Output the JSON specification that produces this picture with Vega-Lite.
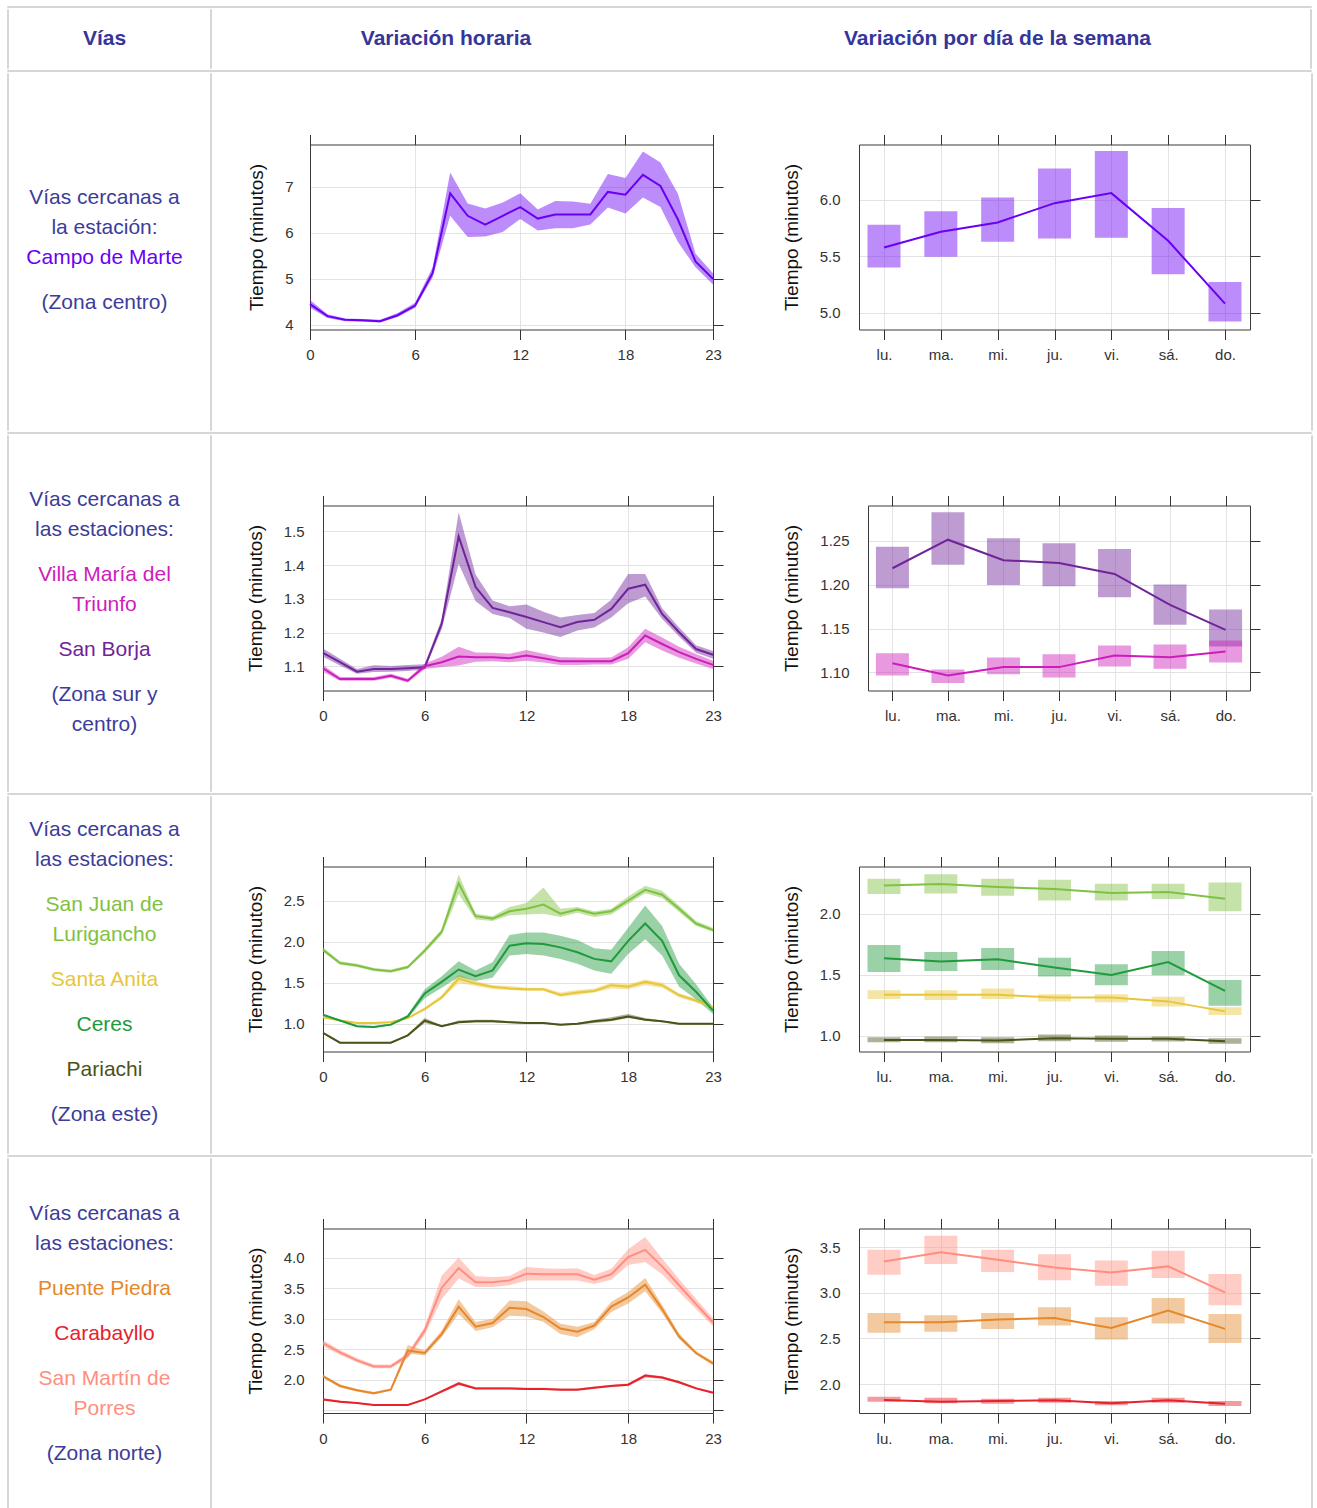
{
"$schema": "https://vega.github.io/schema/vega-lite/v6.json",
"padding": {"left": 6, "top": 5, "right": 0, "bottom": 0},
"background": "white",
"config": {
  "view": {"stroke": null},
  "axis": {"labelFont": "Liberation Sans", "labelFontSize": 15, "labelColor": "#333333", "titleFont": "Liberation Sans", "titleFontSize": 19, "titleFontWeight": "normal", "titleColor": "#111111", "tickColor": "#333333", "tickSize": 10, "domain": true, "domainColor": "#3a3a3a", "domainWidth": 1, "gridColor": "#e3e3e3", "labelFlush": false, "labelOverlap": false}
},
"datasets": {
"vacio": [],
"textos": [
{"fila":1,"renglon":0,"texto":"Vías cercanas a","grupo":"general"},
{"fila":1,"renglon":1,"texto":"la estación:","grupo":"general"},
{"fila":1,"renglon":2,"texto":"Campo de Marte","grupo":"Campo de Marte"},
{"fila":1,"renglon":3.5,"texto":"(Zona centro)","grupo":"general"},
{"fila":2,"renglon":0,"texto":"Vías cercanas a","grupo":"general"},
{"fila":2,"renglon":1,"texto":"las estaciones:","grupo":"general"},
{"fila":2,"renglon":2.5,"texto":"Villa María del","grupo":"Villa María del Triunfo"},
{"fila":2,"renglon":3.5,"texto":"Triunfo","grupo":"Villa María del Triunfo"},
{"fila":2,"renglon":5,"texto":"San Borja","grupo":"San Borja"},
{"fila":2,"renglon":6.5,"texto":"(Zona sur y","grupo":"general"},
{"fila":2,"renglon":7.5,"texto":"centro)","grupo":"general"},
{"fila":3,"renglon":0,"texto":"Vías cercanas a","grupo":"general"},
{"fila":3,"renglon":1,"texto":"las estaciones:","grupo":"general"},
{"fila":3,"renglon":2.5,"texto":"San Juan de","grupo":"San Juan de Lurigancho"},
{"fila":3,"renglon":3.5,"texto":"Lurigancho","grupo":"San Juan de Lurigancho"},
{"fila":3,"renglon":5,"texto":"Santa Anita","grupo":"Santa Anita"},
{"fila":3,"renglon":6.5,"texto":"Ceres","grupo":"Ceres"},
{"fila":3,"renglon":8,"texto":"Pariachi","grupo":"Pariachi"},
{"fila":3,"renglon":9.5,"texto":"(Zona este)","grupo":"general"},
{"fila":4,"renglon":0,"texto":"Vías cercanas a","grupo":"general"},
{"fila":4,"renglon":1,"texto":"las estaciones:","grupo":"general"},
{"fila":4,"renglon":2.5,"texto":"Puente Piedra","grupo":"Puente Piedra"},
{"fila":4,"renglon":4,"texto":"Carabayllo","grupo":"Carabayllo"},
{"fila":4,"renglon":5.5,"texto":"San Martín de","grupo":"San Martín de Porres"},
{"fila":4,"renglon":6.5,"texto":"Porres","grupo":"San Martín de Porres"},
{"fila":4,"renglon":8,"texto":"(Zona norte)","grupo":"general"}
],
"horaria": [
{"fila":1,"serie":"Campo de Marte","hora":0,"valor":4.45,"inf":4.37,"sup":4.54},
{"fila":1,"serie":"Campo de Marte","hora":1,"valor":4.19,"inf":4.15,"sup":4.23},
{"fila":1,"serie":"Campo de Marte","hora":2,"valor":4.11,"inf":4.08,"sup":4.14},
{"fila":1,"serie":"Campo de Marte","hora":3,"valor":4.10,"inf":4.07,"sup":4.13},
{"fila":1,"serie":"Campo de Marte","hora":4,"valor":4.08,"inf":4.05,"sup":4.11},
{"fila":1,"serie":"Campo de Marte","hora":5,"valor":4.21,"inf":4.17,"sup":4.26},
{"fila":1,"serie":"Campo de Marte","hora":6,"valor":4.42,"inf":4.37,"sup":4.48},
{"fila":1,"serie":"Campo de Marte","hora":7,"valor":5.13,"inf":5.03,"sup":5.25},
{"fila":1,"serie":"Campo de Marte","hora":8,"valor":6.86,"inf":6.37,"sup":7.31},
{"fila":1,"serie":"Campo de Marte","hora":9,"valor":6.37,"inf":5.91,"sup":6.64},
{"fila":1,"serie":"Campo de Marte","hora":10,"valor":6.18,"inf":5.92,"sup":6.53},
{"fila":1,"serie":"Campo de Marte","hora":11,"valor":6.37,"inf":6.02,"sup":6.66},
{"fila":1,"serie":"Campo de Marte","hora":12,"valor":6.56,"inf":6.30,"sup":6.86},
{"fila":1,"serie":"Campo de Marte","hora":13,"valor":6.31,"inf":6.05,"sup":6.51},
{"fila":1,"serie":"Campo de Marte","hora":14,"valor":6.40,"inf":6.10,"sup":6.69},
{"fila":1,"serie":"Campo de Marte","hora":15,"valor":6.40,"inf":6.10,"sup":6.68},
{"fila":1,"serie":"Campo de Marte","hora":16,"valor":6.40,"inf":6.18,"sup":6.63},
{"fila":1,"serie":"Campo de Marte","hora":17,"valor":6.89,"inf":6.55,"sup":7.28},
{"fila":1,"serie":"Campo de Marte","hora":18,"valor":6.83,"inf":6.42,"sup":7.19},
{"fila":1,"serie":"Campo de Marte","hora":19,"valor":7.26,"inf":6.77,"sup":7.77},
{"fila":1,"serie":"Campo de Marte","hora":20,"valor":7.02,"inf":6.56,"sup":7.53},
{"fila":1,"serie":"Campo de Marte","hora":21,"valor":6.29,"inf":5.80,"sup":6.85},
{"fila":1,"serie":"Campo de Marte","hora":22,"valor":5.38,"inf":5.25,"sup":5.55},
{"fila":1,"serie":"Campo de Marte","hora":23,"valor":5.00,"inf":4.88,"sup":5.12},
{"fila":2,"serie":"San Borja","hora":0,"valor":1.140,"inf":1.128,"sup":1.153},
{"fila":2,"serie":"San Borja","hora":1,"valor":1.112,"inf":1.102,"sup":1.122},
{"fila":2,"serie":"San Borja","hora":2,"valor":1.084,"inf":1.078,"sup":1.092},
{"fila":2,"serie":"San Borja","hora":3,"valor":1.092,"inf":1.083,"sup":1.103},
{"fila":2,"serie":"San Borja","hora":4,"valor":1.092,"inf":1.084,"sup":1.101},
{"fila":2,"serie":"San Borja","hora":5,"valor":1.094,"inf":1.086,"sup":1.104},
{"fila":2,"serie":"San Borja","hora":6,"valor":1.097,"inf":1.090,"sup":1.106},
{"fila":2,"serie":"San Borja","hora":7,"valor":1.226,"inf":1.210,"sup":1.240},
{"fila":2,"serie":"San Borja","hora":8,"valor":1.485,"inf":1.404,"sup":1.557},
{"fila":2,"serie":"San Borja","hora":9,"valor":1.335,"inf":1.293,"sup":1.372},
{"fila":2,"serie":"San Borja","hora":10,"valor":1.273,"inf":1.255,"sup":1.295},
{"fila":2,"serie":"San Borja","hora":11,"valor":1.260,"inf":1.243,"sup":1.278},
{"fila":2,"serie":"San Borja","hora":12,"valor":1.246,"inf":1.211,"sup":1.283},
{"fila":2,"serie":"San Borja","hora":13,"valor":1.231,"inf":1.200,"sup":1.262},
{"fila":2,"serie":"San Borja","hora":14,"valor":1.216,"inf":1.187,"sup":1.245},
{"fila":2,"serie":"San Borja","hora":15,"valor":1.231,"inf":1.206,"sup":1.252},
{"fila":2,"serie":"San Borja","hora":16,"valor":1.238,"inf":1.215,"sup":1.258},
{"fila":2,"serie":"San Borja","hora":17,"valor":1.270,"inf":1.245,"sup":1.297},
{"fila":2,"serie":"San Borja","hora":18,"valor":1.330,"inf":1.287,"sup":1.374},
{"fila":2,"serie":"San Borja","hora":19,"valor":1.342,"inf":1.307,"sup":1.374},
{"fila":2,"serie":"San Borja","hora":20,"valor":1.255,"inf":1.240,"sup":1.272},
{"fila":2,"serie":"San Borja","hora":21,"valor":1.201,"inf":1.188,"sup":1.215},
{"fila":2,"serie":"San Borja","hora":22,"valor":1.151,"inf":1.140,"sup":1.162},
{"fila":2,"serie":"San Borja","hora":23,"valor":1.134,"inf":1.122,"sup":1.145},
{"fila":2,"serie":"Villa María del Triunfo","hora":0,"valor":1.094,"inf":1.084,"sup":1.104},
{"fila":2,"serie":"Villa María del Triunfo","hora":1,"valor":1.062,"inf":1.057,"sup":1.068},
{"fila":2,"serie":"Villa María del Triunfo","hora":2,"valor":1.062,"inf":1.057,"sup":1.068},
{"fila":2,"serie":"Villa María del Triunfo","hora":3,"valor":1.062,"inf":1.057,"sup":1.068},
{"fila":2,"serie":"Villa María del Triunfo","hora":4,"valor":1.072,"inf":1.066,"sup":1.078},
{"fila":2,"serie":"Villa María del Triunfo","hora":5,"valor":1.057,"inf":1.052,"sup":1.063},
{"fila":2,"serie":"Villa María del Triunfo","hora":6,"valor":1.100,"inf":1.092,"sup":1.108},
{"fila":2,"serie":"Villa María del Triunfo","hora":7,"valor":1.112,"inf":1.098,"sup":1.128},
{"fila":2,"serie":"Villa María del Triunfo","hora":8,"valor":1.129,"inf":1.102,"sup":1.158},
{"fila":2,"serie":"Villa María del Triunfo","hora":9,"valor":1.127,"inf":1.113,"sup":1.141},
{"fila":2,"serie":"Villa María del Triunfo","hora":10,"valor":1.127,"inf":1.115,"sup":1.140},
{"fila":2,"serie":"Villa María del Triunfo","hora":11,"valor":1.124,"inf":1.112,"sup":1.137},
{"fila":2,"serie":"Villa María del Triunfo","hora":12,"valor":1.132,"inf":1.116,"sup":1.148},
{"fila":2,"serie":"Villa María del Triunfo","hora":13,"valor":1.124,"inf":1.111,"sup":1.137},
{"fila":2,"serie":"Villa María del Triunfo","hora":14,"valor":1.115,"inf":1.104,"sup":1.127},
{"fila":2,"serie":"Villa María del Triunfo","hora":15,"valor":1.115,"inf":1.104,"sup":1.126},
{"fila":2,"serie":"Villa María del Triunfo","hora":16,"valor":1.115,"inf":1.105,"sup":1.125},
{"fila":2,"serie":"Villa María del Triunfo","hora":17,"valor":1.115,"inf":1.105,"sup":1.126},
{"fila":2,"serie":"Villa María del Triunfo","hora":18,"valor":1.139,"inf":1.122,"sup":1.156},
{"fila":2,"serie":"Villa María del Triunfo","hora":19,"valor":1.191,"inf":1.171,"sup":1.211},
{"fila":2,"serie":"Villa María del Triunfo","hora":20,"valor":1.166,"inf":1.147,"sup":1.185},
{"fila":2,"serie":"Villa María del Triunfo","hora":21,"valor":1.142,"inf":1.125,"sup":1.158},
{"fila":2,"serie":"Villa María del Triunfo","hora":22,"valor":1.122,"inf":1.108,"sup":1.136},
{"fila":2,"serie":"Villa María del Triunfo","hora":23,"valor":1.104,"inf":1.092,"sup":1.116},
{"fila":3,"serie":"San Juan de Lurigancho","hora":0,"valor":1.90,"inf":1.88,"sup":1.93},
{"fila":3,"serie":"San Juan de Lurigancho","hora":1,"valor":1.74,"inf":1.72,"sup":1.76},
{"fila":3,"serie":"San Juan de Lurigancho","hora":2,"valor":1.71,"inf":1.69,"sup":1.73},
{"fila":3,"serie":"San Juan de Lurigancho","hora":3,"valor":1.66,"inf":1.64,"sup":1.68},
{"fila":3,"serie":"San Juan de Lurigancho","hora":4,"valor":1.64,"inf":1.62,"sup":1.66},
{"fila":3,"serie":"San Juan de Lurigancho","hora":5,"valor":1.69,"inf":1.67,"sup":1.71},
{"fila":3,"serie":"San Juan de Lurigancho","hora":6,"valor":1.89,"inf":1.86,"sup":1.92},
{"fila":3,"serie":"San Juan de Lurigancho","hora":7,"valor":2.12,"inf":2.08,"sup":2.15},
{"fila":3,"serie":"San Juan de Lurigancho","hora":8,"valor":2.71,"inf":2.58,"sup":2.82},
{"fila":3,"serie":"San Juan de Lurigancho","hora":9,"valor":2.31,"inf":2.27,"sup":2.34},
{"fila":3,"serie":"San Juan de Lurigancho","hora":10,"valor":2.28,"inf":2.25,"sup":2.31},
{"fila":3,"serie":"San Juan de Lurigancho","hora":11,"valor":2.37,"inf":2.32,"sup":2.42},
{"fila":3,"serie":"San Juan de Lurigancho","hora":12,"valor":2.40,"inf":2.33,"sup":2.47},
{"fila":3,"serie":"San Juan de Lurigancho","hora":13,"valor":2.45,"inf":2.34,"sup":2.66},
{"fila":3,"serie":"San Juan de Lurigancho","hora":14,"valor":2.34,"inf":2.30,"sup":2.40},
{"fila":3,"serie":"San Juan de Lurigancho","hora":15,"valor":2.39,"inf":2.35,"sup":2.42},
{"fila":3,"serie":"San Juan de Lurigancho","hora":16,"valor":2.34,"inf":2.30,"sup":2.37},
{"fila":3,"serie":"San Juan de Lurigancho","hora":17,"valor":2.37,"inf":2.33,"sup":2.40},
{"fila":3,"serie":"San Juan de Lurigancho","hora":18,"valor":2.50,"inf":2.46,"sup":2.55},
{"fila":3,"serie":"San Juan de Lurigancho","hora":19,"valor":2.63,"inf":2.59,"sup":2.68},
{"fila":3,"serie":"San Juan de Lurigancho","hora":20,"valor":2.57,"inf":2.53,"sup":2.62},
{"fila":3,"serie":"San Juan de Lurigancho","hora":21,"valor":2.40,"inf":2.36,"sup":2.44},
{"fila":3,"serie":"San Juan de Lurigancho","hora":22,"valor":2.22,"inf":2.19,"sup":2.25},
{"fila":3,"serie":"San Juan de Lurigancho","hora":23,"valor":2.14,"inf":2.12,"sup":2.17},
{"fila":3,"serie":"Santa Anita","hora":0,"valor":1.08,"inf":1.07,"sup":1.09},
{"fila":3,"serie":"Santa Anita","hora":1,"valor":1.04,"inf":1.03,"sup":1.05},
{"fila":3,"serie":"Santa Anita","hora":2,"valor":1.01,"inf":1.00,"sup":1.02},
{"fila":3,"serie":"Santa Anita","hora":3,"valor":1.01,"inf":1.00,"sup":1.02},
{"fila":3,"serie":"Santa Anita","hora":4,"valor":1.02,"inf":1.01,"sup":1.03},
{"fila":3,"serie":"Santa Anita","hora":5,"valor":1.07,"inf":1.06,"sup":1.08},
{"fila":3,"serie":"Santa Anita","hora":6,"valor":1.18,"inf":1.16,"sup":1.20},
{"fila":3,"serie":"Santa Anita","hora":7,"valor":1.32,"inf":1.30,"sup":1.35},
{"fila":3,"serie":"Santa Anita","hora":8,"valor":1.55,"inf":1.50,"sup":1.60},
{"fila":3,"serie":"Santa Anita","hora":9,"valor":1.49,"inf":1.46,"sup":1.52},
{"fila":3,"serie":"Santa Anita","hora":10,"valor":1.45,"inf":1.42,"sup":1.47},
{"fila":3,"serie":"Santa Anita","hora":11,"valor":1.43,"inf":1.41,"sup":1.46},
{"fila":3,"serie":"Santa Anita","hora":12,"valor":1.42,"inf":1.40,"sup":1.44},
{"fila":3,"serie":"Santa Anita","hora":13,"valor":1.42,"inf":1.40,"sup":1.44},
{"fila":3,"serie":"Santa Anita","hora":14,"valor":1.35,"inf":1.33,"sup":1.38},
{"fila":3,"serie":"Santa Anita","hora":15,"valor":1.38,"inf":1.35,"sup":1.41},
{"fila":3,"serie":"Santa Anita","hora":16,"valor":1.40,"inf":1.38,"sup":1.43},
{"fila":3,"serie":"Santa Anita","hora":17,"valor":1.47,"inf":1.43,"sup":1.50},
{"fila":3,"serie":"Santa Anita","hora":18,"valor":1.45,"inf":1.42,"sup":1.48},
{"fila":3,"serie":"Santa Anita","hora":19,"valor":1.51,"inf":1.47,"sup":1.54},
{"fila":3,"serie":"Santa Anita","hora":20,"valor":1.47,"inf":1.44,"sup":1.50},
{"fila":3,"serie":"Santa Anita","hora":21,"valor":1.35,"inf":1.32,"sup":1.37},
{"fila":3,"serie":"Santa Anita","hora":22,"valor":1.28,"inf":1.26,"sup":1.31},
{"fila":3,"serie":"Santa Anita","hora":23,"valor":1.20,"inf":1.18,"sup":1.22},
{"fila":3,"serie":"Ceres","hora":0,"valor":1.11,"inf":1.10,"sup":1.12},
{"fila":3,"serie":"Ceres","hora":1,"valor":1.04,"inf":1.03,"sup":1.05},
{"fila":3,"serie":"Ceres","hora":2,"valor":0.97,"inf":0.96,"sup":0.98},
{"fila":3,"serie":"Ceres","hora":3,"valor":0.96,"inf":0.95,"sup":0.97},
{"fila":3,"serie":"Ceres","hora":4,"valor":0.99,"inf":0.98,"sup":1.00},
{"fila":3,"serie":"Ceres","hora":5,"valor":1.09,"inf":1.07,"sup":1.11},
{"fila":3,"serie":"Ceres","hora":6,"valor":1.37,"inf":1.31,"sup":1.42},
{"fila":3,"serie":"Ceres","hora":7,"valor":1.51,"inf":1.44,"sup":1.58},
{"fila":3,"serie":"Ceres","hora":8,"valor":1.66,"inf":1.57,"sup":1.76},
{"fila":3,"serie":"Ceres","hora":9,"valor":1.58,"inf":1.52,"sup":1.65},
{"fila":3,"serie":"Ceres","hora":10,"valor":1.65,"inf":1.56,"sup":1.75},
{"fila":3,"serie":"Ceres","hora":11,"valor":1.95,"inf":1.83,"sup":2.08},
{"fila":3,"serie":"Ceres","hora":12,"valor":1.98,"inf":1.85,"sup":2.11},
{"fila":3,"serie":"Ceres","hora":13,"valor":1.97,"inf":1.83,"sup":2.11},
{"fila":3,"serie":"Ceres","hora":14,"valor":1.93,"inf":1.79,"sup":2.07},
{"fila":3,"serie":"Ceres","hora":15,"valor":1.87,"inf":1.73,"sup":2.02},
{"fila":3,"serie":"Ceres","hora":16,"valor":1.79,"inf":1.65,"sup":1.92},
{"fila":3,"serie":"Ceres","hora":17,"valor":1.76,"inf":1.61,"sup":1.90},
{"fila":3,"serie":"Ceres","hora":18,"valor":2.01,"inf":1.85,"sup":2.17},
{"fila":3,"serie":"Ceres","hora":19,"valor":2.22,"inf":2.03,"sup":2.44},
{"fila":3,"serie":"Ceres","hora":20,"valor":2.01,"inf":1.83,"sup":2.19},
{"fila":3,"serie":"Ceres","hora":21,"valor":1.59,"inf":1.45,"sup":1.73},
{"fila":3,"serie":"Ceres","hora":22,"valor":1.39,"inf":1.30,"sup":1.48},
{"fila":3,"serie":"Ceres","hora":23,"valor":1.16,"inf":1.12,"sup":1.20},
{"fila":3,"serie":"Pariachi","hora":0,"valor":0.89,"inf":0.88,"sup":0.90},
{"fila":3,"serie":"Pariachi","hora":1,"valor":0.77,"inf":0.76,"sup":0.78},
{"fila":3,"serie":"Pariachi","hora":2,"valor":0.77,"inf":0.76,"sup":0.78},
{"fila":3,"serie":"Pariachi","hora":3,"valor":0.77,"inf":0.76,"sup":0.78},
{"fila":3,"serie":"Pariachi","hora":4,"valor":0.77,"inf":0.76,"sup":0.78},
{"fila":3,"serie":"Pariachi","hora":5,"valor":0.86,"inf":0.85,"sup":0.87},
{"fila":3,"serie":"Pariachi","hora":6,"valor":1.04,"inf":1.01,"sup":1.07},
{"fila":3,"serie":"Pariachi","hora":7,"valor":0.97,"inf":0.96,"sup":0.98},
{"fila":3,"serie":"Pariachi","hora":8,"valor":1.02,"inf":1.01,"sup":1.04},
{"fila":3,"serie":"Pariachi","hora":9,"valor":1.03,"inf":1.02,"sup":1.05},
{"fila":3,"serie":"Pariachi","hora":10,"valor":1.03,"inf":1.02,"sup":1.05},
{"fila":3,"serie":"Pariachi","hora":11,"valor":1.02,"inf":1.01,"sup":1.03},
{"fila":3,"serie":"Pariachi","hora":12,"valor":1.01,"inf":1.00,"sup":1.02},
{"fila":3,"serie":"Pariachi","hora":13,"valor":1.01,"inf":1.00,"sup":1.02},
{"fila":3,"serie":"Pariachi","hora":14,"valor":0.99,"inf":0.98,"sup":1.00},
{"fila":3,"serie":"Pariachi","hora":15,"valor":1.00,"inf":0.99,"sup":1.01},
{"fila":3,"serie":"Pariachi","hora":16,"valor":1.03,"inf":1.01,"sup":1.05},
{"fila":3,"serie":"Pariachi","hora":17,"valor":1.05,"inf":1.03,"sup":1.08},
{"fila":3,"serie":"Pariachi","hora":18,"valor":1.09,"inf":1.07,"sup":1.12},
{"fila":3,"serie":"Pariachi","hora":19,"valor":1.05,"inf":1.04,"sup":1.07},
{"fila":3,"serie":"Pariachi","hora":20,"valor":1.03,"inf":1.02,"sup":1.04},
{"fila":3,"serie":"Pariachi","hora":21,"valor":1.00,"inf":0.99,"sup":1.01},
{"fila":3,"serie":"Pariachi","hora":22,"valor":1.00,"inf":0.99,"sup":1.01},
{"fila":3,"serie":"Pariachi","hora":23,"valor":1.00,"inf":0.99,"sup":1.01},
{"fila":4,"serie":"San Martín de Porres","hora":0,"valor":2.60,"inf":2.55,"sup":2.65},
{"fila":4,"serie":"San Martín de Porres","hora":1,"valor":2.45,"inf":2.41,"sup":2.49},
{"fila":4,"serie":"San Martín de Porres","hora":2,"valor":2.32,"inf":2.29,"sup":2.36},
{"fila":4,"serie":"San Martín de Porres","hora":3,"valor":2.22,"inf":2.19,"sup":2.25},
{"fila":4,"serie":"San Martín de Porres","hora":4,"valor":2.22,"inf":2.19,"sup":2.25},
{"fila":4,"serie":"San Martín de Porres","hora":5,"valor":2.40,"inf":2.35,"sup":2.44},
{"fila":4,"serie":"San Martín de Porres","hora":6,"valor":2.81,"inf":2.74,"sup":2.87},
{"fila":4,"serie":"San Martín de Porres","hora":7,"valor":3.51,"inf":3.32,"sup":3.71},
{"fila":4,"serie":"San Martín de Porres","hora":8,"valor":3.83,"inf":3.66,"sup":4.00},
{"fila":4,"serie":"San Martín de Porres","hora":9,"valor":3.60,"inf":3.52,"sup":3.70},
{"fila":4,"serie":"San Martín de Porres","hora":10,"valor":3.60,"inf":3.52,"sup":3.68},
{"fila":4,"serie":"San Martín de Porres","hora":11,"valor":3.63,"inf":3.55,"sup":3.70},
{"fila":4,"serie":"San Martín de Porres","hora":12,"valor":3.74,"inf":3.63,"sup":3.85},
{"fila":4,"serie":"San Martín de Porres","hora":13,"valor":3.73,"inf":3.63,"sup":3.83},
{"fila":4,"serie":"San Martín de Porres","hora":14,"valor":3.73,"inf":3.63,"sup":3.82},
{"fila":4,"serie":"San Martín de Porres","hora":15,"valor":3.73,"inf":3.63,"sup":3.83},
{"fila":4,"serie":"San Martín de Porres","hora":16,"valor":3.64,"inf":3.57,"sup":3.72},
{"fila":4,"serie":"San Martín de Porres","hora":17,"valor":3.73,"inf":3.64,"sup":3.82},
{"fila":4,"serie":"San Martín de Porres","hora":18,"valor":4.01,"inf":3.88,"sup":4.14},
{"fila":4,"serie":"San Martín de Porres","hora":19,"valor":4.13,"inf":3.93,"sup":4.34},
{"fila":4,"serie":"San Martín de Porres","hora":20,"valor":3.86,"inf":3.73,"sup":3.99},
{"fila":4,"serie":"San Martín de Porres","hora":21,"valor":3.55,"inf":3.44,"sup":3.65},
{"fila":4,"serie":"San Martín de Porres","hora":22,"valor":3.24,"inf":3.16,"sup":3.33},
{"fila":4,"serie":"San Martín de Porres","hora":23,"valor":2.94,"inf":2.88,"sup":3.01},
{"fila":4,"serie":"Puente Piedra","hora":0,"valor":2.06,"inf":2.03,"sup":2.08},
{"fila":4,"serie":"Puente Piedra","hora":1,"valor":1.90,"inf":1.88,"sup":1.93},
{"fila":4,"serie":"Puente Piedra","hora":2,"valor":1.83,"inf":1.81,"sup":1.85},
{"fila":4,"serie":"Puente Piedra","hora":3,"valor":1.78,"inf":1.76,"sup":1.80},
{"fila":4,"serie":"Puente Piedra","hora":4,"valor":1.84,"inf":1.82,"sup":1.86},
{"fila":4,"serie":"Puente Piedra","hora":5,"valor":2.48,"inf":2.43,"sup":2.57},
{"fila":4,"serie":"Puente Piedra","hora":6,"valor":2.44,"inf":2.40,"sup":2.48},
{"fila":4,"serie":"Puente Piedra","hora":7,"valor":2.75,"inf":2.70,"sup":2.81},
{"fila":4,"serie":"Puente Piedra","hora":8,"valor":3.20,"inf":3.08,"sup":3.32},
{"fila":4,"serie":"Puente Piedra","hora":9,"valor":2.87,"inf":2.80,"sup":2.95},
{"fila":4,"serie":"Puente Piedra","hora":10,"valor":2.93,"inf":2.86,"sup":3.00},
{"fila":4,"serie":"Puente Piedra","hora":11,"valor":3.18,"inf":3.05,"sup":3.30},
{"fila":4,"serie":"Puente Piedra","hora":12,"valor":3.16,"inf":3.04,"sup":3.29},
{"fila":4,"serie":"Puente Piedra","hora":13,"valor":3.03,"inf":2.95,"sup":3.12},
{"fila":4,"serie":"Puente Piedra","hora":14,"valor":2.84,"inf":2.75,"sup":2.92},
{"fila":4,"serie":"Puente Piedra","hora":15,"valor":2.79,"inf":2.70,"sup":2.87},
{"fila":4,"serie":"Puente Piedra","hora":16,"valor":2.89,"inf":2.83,"sup":2.95},
{"fila":4,"serie":"Puente Piedra","hora":17,"valor":3.20,"inf":3.11,"sup":3.28},
{"fila":4,"serie":"Puente Piedra","hora":18,"valor":3.35,"inf":3.25,"sup":3.44},
{"fila":4,"serie":"Puente Piedra","hora":19,"valor":3.56,"inf":3.45,"sup":3.67},
{"fila":4,"serie":"Puente Piedra","hora":20,"valor":3.16,"inf":3.09,"sup":3.23},
{"fila":4,"serie":"Puente Piedra","hora":21,"valor":2.71,"inf":2.67,"sup":2.76},
{"fila":4,"serie":"Puente Piedra","hora":22,"valor":2.44,"inf":2.41,"sup":2.47},
{"fila":4,"serie":"Puente Piedra","hora":23,"valor":2.27,"inf":2.24,"sup":2.30},
{"fila":4,"serie":"Carabayllo","hora":0,"valor":1.68,"inf":1.67,"sup":1.70},
{"fila":4,"serie":"Carabayllo","hora":1,"valor":1.64,"inf":1.63,"sup":1.66},
{"fila":4,"serie":"Carabayllo","hora":2,"valor":1.62,"inf":1.61,"sup":1.63},
{"fila":4,"serie":"Carabayllo","hora":3,"valor":1.59,"inf":1.58,"sup":1.60},
{"fila":4,"serie":"Carabayllo","hora":4,"valor":1.59,"inf":1.58,"sup":1.60},
{"fila":4,"serie":"Carabayllo","hora":5,"valor":1.59,"inf":1.58,"sup":1.60},
{"fila":4,"serie":"Carabayllo","hora":6,"valor":1.68,"inf":1.67,"sup":1.69},
{"fila":4,"serie":"Carabayllo","hora":7,"valor":1.81,"inf":1.79,"sup":1.83},
{"fila":4,"serie":"Carabayllo","hora":8,"valor":1.94,"inf":1.91,"sup":1.97},
{"fila":4,"serie":"Carabayllo","hora":9,"valor":1.86,"inf":1.85,"sup":1.88},
{"fila":4,"serie":"Carabayllo","hora":10,"valor":1.86,"inf":1.85,"sup":1.88},
{"fila":4,"serie":"Carabayllo","hora":11,"valor":1.86,"inf":1.85,"sup":1.88},
{"fila":4,"serie":"Carabayllo","hora":12,"valor":1.85,"inf":1.84,"sup":1.87},
{"fila":4,"serie":"Carabayllo","hora":13,"valor":1.85,"inf":1.84,"sup":1.87},
{"fila":4,"serie":"Carabayllo","hora":14,"valor":1.84,"inf":1.83,"sup":1.86},
{"fila":4,"serie":"Carabayllo","hora":15,"valor":1.84,"inf":1.83,"sup":1.86},
{"fila":4,"serie":"Carabayllo","hora":16,"valor":1.87,"inf":1.86,"sup":1.89},
{"fila":4,"serie":"Carabayllo","hora":17,"valor":1.90,"inf":1.89,"sup":1.92},
{"fila":4,"serie":"Carabayllo","hora":18,"valor":1.92,"inf":1.90,"sup":1.94},
{"fila":4,"serie":"Carabayllo","hora":19,"valor":2.07,"inf":2.04,"sup":2.09},
{"fila":4,"serie":"Carabayllo","hora":20,"valor":2.04,"inf":2.02,"sup":2.06},
{"fila":4,"serie":"Carabayllo","hora":21,"valor":1.96,"inf":1.94,"sup":1.98},
{"fila":4,"serie":"Carabayllo","hora":22,"valor":1.86,"inf":1.85,"sup":1.88},
{"fila":4,"serie":"Carabayllo","hora":23,"valor":1.79,"inf":1.78,"sup":1.81}
],
"semanal": [
{"fila":1,"serie":"Campo de Marte","dia":"lu.","valor":5.577,"inf":5.399,"sup":5.778},
{"fila":1,"serie":"Campo de Marte","dia":"ma.","valor":5.716,"inf":5.494,"sup":5.899},
{"fila":1,"serie":"Campo de Marte","dia":"mi.","valor":5.799,"inf":5.627,"sup":6.021},
{"fila":1,"serie":"Campo de Marte","dia":"ju.","valor":5.970,"inf":5.657,"sup":6.278},
{"fila":1,"serie":"Campo de Marte","dia":"vi.","valor":6.059,"inf":5.663,"sup":6.432},
{"fila":1,"serie":"Campo de Marte","dia":"sá.","valor":5.636,"inf":5.340,"sup":5.926},
{"fila":1,"serie":"Campo de Marte","dia":"do.","valor":5.080,"inf":4.920,"sup":5.272},
{"fila":2,"serie":"San Borja","dia":"lu.","valor":1.2186,"inf":1.1958,"sup":1.2432},
{"fila":2,"serie":"San Borja","dia":"ma.","valor":1.2511,"inf":1.2227,"sup":1.2822},
{"fila":2,"serie":"San Borja","dia":"mi.","valor":1.2277,"inf":1.1996,"sup":1.2527},
{"fila":2,"serie":"San Borja","dia":"ju.","valor":1.2246,"inf":1.1981,"sup":1.2470},
{"fila":2,"serie":"San Borja","dia":"vi.","valor":1.2121,"inf":1.1856,"sup":1.2405},
{"fila":2,"serie":"San Borja","dia":"sá.","valor":1.1769,"inf":1.1542,"sup":1.2000},
{"fila":2,"serie":"San Borja","dia":"do.","valor":1.1485,"inf":1.1295,"sup":1.1716},
{"fila":2,"serie":"Villa María del Triunfo","dia":"lu.","valor":1.1106,"inf":1.0966,"sup":1.1220},
{"fila":2,"serie":"Villa María del Triunfo","dia":"ma.","valor":1.0966,"inf":1.0879,"sup":1.1034},
{"fila":2,"serie":"Villa María del Triunfo","dia":"mi.","valor":1.1061,"inf":1.0980,"sup":1.1170},
{"fila":2,"serie":"Villa María del Triunfo","dia":"ju.","valor":1.1061,"inf":1.0943,"sup":1.1208},
{"fila":2,"serie":"Villa María del Triunfo","dia":"vi.","valor":1.1193,"inf":1.1068,"sup":1.1307},
{"fila":2,"serie":"Villa María del Triunfo","dia":"sá.","valor":1.1174,"inf":1.1042,"sup":1.1318},
{"fila":2,"serie":"Villa María del Triunfo","dia":"do.","valor":1.1239,"inf":1.1114,"sup":1.1364},
{"fila":3,"serie":"San Juan de Lurigancho","dia":"lu.","valor":2.234,"inf":2.163,"sup":2.288},
{"fila":3,"serie":"San Juan de Lurigancho","dia":"ma.","valor":2.245,"inf":2.168,"sup":2.326},
{"fila":3,"serie":"San Juan de Lurigancho","dia":"mi.","valor":2.220,"inf":2.149,"sup":2.288},
{"fila":3,"serie":"San Juan de Lurigancho","dia":"ju.","valor":2.204,"inf":2.111,"sup":2.280},
{"fila":3,"serie":"San Juan de Lurigancho","dia":"vi.","valor":2.171,"inf":2.111,"sup":2.247},
{"fila":3,"serie":"San Juan de Lurigancho","dia":"sá.","valor":2.179,"inf":2.122,"sup":2.247},
{"fila":3,"serie":"San Juan de Lurigancho","dia":"do.","valor":2.125,"inf":2.022,"sup":2.258},
{"fila":3,"serie":"Santa Anita","dia":"lu.","valor":1.337,"inf":1.302,"sup":1.375},
{"fila":3,"serie":"Santa Anita","dia":"ma.","valor":1.337,"inf":1.294,"sup":1.375},
{"fila":3,"serie":"Santa Anita","dia":"mi.","valor":1.337,"inf":1.302,"sup":1.389},
{"fila":3,"serie":"Santa Anita","dia":"ju.","valor":1.315,"inf":1.283,"sup":1.342},
{"fila":3,"serie":"Santa Anita","dia":"vi.","valor":1.315,"inf":1.275,"sup":1.342},
{"fila":3,"serie":"Santa Anita","dia":"sá.","valor":1.283,"inf":1.242,"sup":1.321},
{"fila":3,"serie":"Santa Anita","dia":"do.","valor":1.201,"inf":1.171,"sup":1.234},
{"fila":3,"serie":"Ceres","dia":"lu.","valor":1.636,"inf":1.524,"sup":1.745},
{"fila":3,"serie":"Ceres","dia":"ma.","valor":1.609,"inf":1.533,"sup":1.688},
{"fila":3,"serie":"Ceres","dia":"mi.","valor":1.628,"inf":1.541,"sup":1.720},
{"fila":3,"serie":"Ceres","dia":"ju.","valor":1.560,"inf":1.486,"sup":1.641},
{"fila":3,"serie":"Ceres","dia":"vi.","valor":1.500,"inf":1.416,"sup":1.587},
{"fila":3,"serie":"Ceres","dia":"sá.","valor":1.606,"inf":1.497,"sup":1.696},
{"fila":3,"serie":"Ceres","dia":"do.","valor":1.370,"inf":1.247,"sup":1.459},
{"fila":3,"serie":"Pariachi","dia":"lu.","valor":0.967,"inf":0.948,"sup":0.989},
{"fila":3,"serie":"Pariachi","dia":"ma.","valor":0.967,"inf":0.948,"sup":0.994},
{"fila":3,"serie":"Pariachi","dia":"mi.","valor":0.962,"inf":0.940,"sup":0.989},
{"fila":3,"serie":"Pariachi","dia":"ju.","valor":0.981,"inf":0.957,"sup":1.011},
{"fila":3,"serie":"Pariachi","dia":"vi.","valor":0.976,"inf":0.951,"sup":1.003},
{"fila":3,"serie":"Pariachi","dia":"sá.","valor":0.976,"inf":0.955,"sup":0.994},
{"fila":3,"serie":"Pariachi","dia":"do.","valor":0.957,"inf":0.935,"sup":0.981},
{"fila":4,"serie":"San Martín de Porres","dia":"lu.","valor":3.343,"inf":3.198,"sup":3.471},
{"fila":4,"serie":"San Martín de Porres","dia":"ma.","valor":3.445,"inf":3.314,"sup":3.624},
{"fila":4,"serie":"San Martín de Porres","dia":"mi.","valor":3.361,"inf":3.227,"sup":3.471},
{"fila":4,"serie":"San Martín de Porres","dia":"ju.","valor":3.278,"inf":3.136,"sup":3.423},
{"fila":4,"serie":"San Martín de Porres","dia":"vi.","valor":3.223,"inf":3.078,"sup":3.354},
{"fila":4,"serie":"San Martín de Porres","dia":"sá.","valor":3.289,"inf":3.161,"sup":3.460},
{"fila":4,"serie":"San Martín de Porres","dia":"do.","valor":3.005,"inf":2.863,"sup":3.205},
{"fila":4,"serie":"Puente Piedra","dia":"lu.","valor":2.677,"inf":2.561,"sup":2.779},
{"fila":4,"serie":"Puente Piedra","dia":"ma.","valor":2.677,"inf":2.572,"sup":2.754},
{"fila":4,"serie":"Puente Piedra","dia":"mi.","valor":2.706,"inf":2.604,"sup":2.779},
{"fila":4,"serie":"Puente Piedra","dia":"ju.","valor":2.724,"inf":2.641,"sup":2.841},
{"fila":4,"serie":"Puente Piedra","dia":"vi.","valor":2.615,"inf":2.488,"sup":2.732},
{"fila":4,"serie":"Puente Piedra","dia":"sá.","valor":2.805,"inf":2.663,"sup":2.943},
{"fila":4,"serie":"Puente Piedra","dia":"do.","valor":2.604,"inf":2.451,"sup":2.768},
{"fila":4,"serie":"Carabayllo","dia":"lu.","valor":1.825,"inf":1.807,"sup":1.862},
{"fila":4,"serie":"Carabayllo","dia":"ma.","valor":1.807,"inf":1.789,"sup":1.851},
{"fila":4,"serie":"Carabayllo","dia":"mi.","valor":1.814,"inf":1.785,"sup":1.840},
{"fila":4,"serie":"Carabayllo","dia":"ju.","valor":1.822,"inf":1.796,"sup":1.851},
{"fila":4,"serie":"Carabayllo","dia":"vi.","valor":1.789,"inf":1.767,"sup":1.814},
{"fila":4,"serie":"Carabayllo","dia":"sá.","valor":1.822,"inf":1.796,"sup":1.851},
{"fila":4,"serie":"Carabayllo","dia":"do.","valor":1.785,"inf":1.760,"sup":1.814}
]
},
"spacing": 0,
"vconcat": [
{"width": 1304, "height": 1, "view": {"stroke": "#d6d6d6", "strokeWidth": 1}, "data": {"name": "vacio"}, "mark": "point"},
{"hconcat": [
  {"width": 1, "height": 59, "view": {"stroke": "#d6d6d6", "strokeWidth": 1}, "data": {"name": "vacio"}, "mark": "point"},
  {"width": 202, "height": 59, "data": {"values": [{"t": "Vías"}]}, "mark": {"type": "text", "font": "Liberation Sans", "fontSize": 21, "fontWeight": "bold", "color": "#35359a", "baseline": "middle", "align": "center", "dx": -4.5}, "encoding": {"text": {"field": "t", "type": "nominal"}}},
  {"width": 1, "height": 59, "view": {"stroke": "#d6d6d6", "strokeWidth": 1}, "data": {"name": "vacio"}, "mark": "point"},
  {"width": 470, "height": 59, "data": {"values": [{"t": "Variación horaria"}]}, "mark": {"type": "text", "font": "Liberation Sans", "fontSize": 21, "fontWeight": "bold", "color": "#35359a", "baseline": "middle", "align": "center"}, "encoding": {"text": {"field": "t", "type": "nominal"}}},
  {"width": 629, "height": 59, "data": {"values": [{"t": "Variación por día de la semana"}]}, "mark": {"type": "text", "font": "Liberation Sans", "fontSize": 21, "fontWeight": "bold", "color": "#35359a", "baseline": "middle", "align": "center", "dx": 2}, "encoding": {"text": {"field": "t", "type": "nominal"}}},
  {"width": 1, "height": 59, "view": {"stroke": "#d6d6d6", "strokeWidth": 1}, "data": {"name": "vacio"}, "mark": "point"}
 ], "spacing": 0, "bounds": "flush"},
{"width": 1304, "height": 1, "view": {"stroke": "#d6d6d6", "strokeWidth": 1}, "data": {"name": "vacio"}, "mark": "point"},
{"hconcat": [
  {"width": 1, "height": 357, "view": {"stroke": "#d6d6d6", "strokeWidth": 1}, "data": {"name": "vacio"}, "mark": "point"},
  {"width": 202, "height": 357, "data": {"name": "textos"}, "transform": [{"filter": "datum.fila == 1"}], "mark": {"type": "text", "font": "Liberation Sans", "fontSize": 21, "baseline": "middle", "align": "center", "dx": -4.5}, "encoding": {"y": {"field": "renglon", "type": "quantitative", "scale": {"domain": [-4.167, 7.733], "reverse": true, "nice": false, "zero": false}, "axis": null}, "text": {"field": "texto", "type": "nominal"}, "color": {"field": "grupo", "type": "nominal", "legend": null, "scale": {"domain": ["Campo de Marte","Villa María del Triunfo","San Borja","San Juan de Lurigancho","Santa Anita","Ceres","Pariachi","Puente Piedra","Carabayllo","San Martín de Porres","general"], "range": ["#6a00f4","#cc1dbb","#6f2499","#7fc241","#e7c63a","#1f9a3c","#4a5418","#e5872a","#e6222b","#ff8e80","#3c3c9a"]}}}},
  {"width": 1, "height": 357, "view": {"stroke": "#d6d6d6", "strokeWidth": 1}, "data": {"name": "vacio"}, "mark": "point"},
  {"width": 98.5, "height": 1, "data": {"name": "vacio"}, "mark": "point"},
  {"width": 403, "height": 357, "data": {"name": "horaria"}, "transform": [{"filter": "datum.fila == 1"}],
   "layer": [
    {"mark": {"type": "area", "opacity": 0.45}, "encoding": {
      "x": {"field": "hora", "type": "quantitative", "scale": {"domain": [0, 23], "nice": false, "zero": false}, "axis": {"orient": "bottom", "offset": -100.5, "values": [0, 6, 12, 18, 23], "format": "d", "title": null, "grid": false, "labelPadding": 8}},
      "y": {"field": "inf", "type": "quantitative", "scale": {"domain": [3.9, 7.92], "range": [256.5, 71.5], "nice": false, "zero": false}, "axis": {"orient": "left", "values": [4, 5, 6, 7], "format": "d", "title": "Tiempo (minutos)", "ticks": false, "grid": true, "labelPadding": 17, "titlePadding": 18}},
      "y2": {"field": "sup"},
      "color": {"field": "serie", "type": "nominal", "legend": null, "scale": {"domain": ["Campo de Marte","Villa María del Triunfo","San Borja","San Juan de Lurigancho","Santa Anita","Ceres","Pariachi","Puente Piedra","Carabayllo","San Martín de Porres","general"], "range": ["#6a00f4","#cc1dbb","#6f2499","#7fc241","#e7c63a","#1f9a3c","#4a5418","#e5872a","#e6222b","#ff8e80","#3c3c9a"]}}}},
    {"mark": {"type": "line", "strokeWidth": 2}, "encoding": {
      "x": {"field": "hora", "type": "quantitative", "axis": {"orient": "top", "offset": -71.5, "values": [0, 6, 12, 18, 23], "labels": false, "title": null, "grid": true}},
      "y": {"field": "valor", "type": "quantitative", "axis": {"orient": "right", "values": [4, 5, 6, 7], "labels": false, "title": null, "grid": false}},
      "color": {"field": "serie", "type": "nominal", "legend": null}}}
   ]},
  {"width": 146, "height": 1, "data": {"name": "vacio"}, "mark": "point"},
  {"width": 391, "height": 357, "data": {"name": "semanal"}, "transform": [{"filter": "datum.fila == 1"}],
   "layer": [
    {"mark": {"type": "bar", "opacity": 0.45, "width": 33}, "encoding": {
      "x": {"field": "dia", "type": "nominal", "sort": ["lu.","ma.","mi.","ju.","vi.","sá.","do."], "scale": {"type": "point", "padding": 0.44}, "axis": {"orient": "bottom", "offset": -100.5, "title": null, "labelAngle": 0, "grid": false, "labelPadding": 8}},
      "y": {"field": "inf", "type": "quantitative", "scale": {"domain": [4.85, 6.49], "range": [256.5, 71.5], "nice": false, "zero": false}, "axis": {"orient": "left", "values": [5.0, 5.5, 6.0], "format": ".1f", "title": "Tiempo (minutos)", "ticks": false, "grid": true, "labelPadding": 19, "titlePadding": 18}},
      "y2": {"field": "sup"},
      "color": {"field": "serie", "type": "nominal", "legend": null, "scale": {"domain": ["Campo de Marte","Villa María del Triunfo","San Borja","San Juan de Lurigancho","Santa Anita","Ceres","Pariachi","Puente Piedra","Carabayllo","San Martín de Porres","general"], "range": ["#6a00f4","#cc1dbb","#6f2499","#7fc241","#e7c63a","#1f9a3c","#4a5418","#e5872a","#e6222b","#ff8e80","#3c3c9a"]}}}},
    {"mark": {"type": "line", "strokeWidth": 2}, "encoding": {
      "x": {"field": "dia", "type": "nominal", "sort": ["lu.","ma.","mi.","ju.","vi.","sá.","do."], "axis": {"orient": "top", "offset": -71.5, "labels": false, "title": null, "grid": true}},
      "y": {"field": "valor", "type": "quantitative", "axis": {"orient": "right", "values": [5.0, 5.5, 6.0], "labels": false, "title": null, "grid": false}},
      "color": {"field": "serie", "type": "nominal", "legend": null}}}
   ]},
  {"width": 60.5, "height": 1, "data": {"name": "vacio"}, "mark": "point"},
  {"width": 1, "height": 357, "view": {"stroke": "#d6d6d6", "strokeWidth": 1}, "data": {"name": "vacio"}, "mark": "point"}
 ], "spacing": 0, "bounds": "flush"},
{"width": 1304, "height": 1, "view": {"stroke": "#d6d6d6", "strokeWidth": 1}, "data": {"name": "vacio"}, "mark": "point"},
{"hconcat": [
  {"width": 1, "height": 356, "view": {"stroke": "#d6d6d6", "strokeWidth": 1}, "data": {"name": "vacio"}, "mark": "point"},
  {"width": 202, "height": 356, "data": {"name": "textos"}, "transform": [{"filter": "datum.fila == 2"}], "mark": {"type": "text", "font": "Liberation Sans", "fontSize": 21, "baseline": "middle", "align": "center", "dx": -4.5}, "encoding": {"y": {"field": "renglon", "type": "quantitative", "scale": {"domain": [-2.157, 9.71], "reverse": true, "nice": false, "zero": false}, "axis": null}, "text": {"field": "texto", "type": "nominal"}, "color": {"field": "grupo", "type": "nominal", "legend": null, "scale": {"domain": ["Campo de Marte","Villa María del Triunfo","San Borja","San Juan de Lurigancho","Santa Anita","Ceres","Pariachi","Puente Piedra","Carabayllo","San Martín de Porres","general"], "range": ["#6a00f4","#cc1dbb","#6f2499","#7fc241","#e7c63a","#1f9a3c","#4a5418","#e5872a","#e6222b","#ff8e80","#3c3c9a"]}}}},
  {"width": 1, "height": 356, "view": {"stroke": "#d6d6d6", "strokeWidth": 1}, "data": {"name": "vacio"}, "mark": "point"},
  {"width": 111.5, "height": 1, "data": {"name": "vacio"}, "mark": "point"},
  {"width": 390, "height": 356, "data": {"name": "horaria"}, "transform": [{"filter": "datum.fila == 2"}],
   "layer": [
    {"mark": {"type": "area", "opacity": 0.45}, "encoding": {
      "x": {"field": "hora", "type": "quantitative", "scale": {"domain": [0, 23], "nice": false, "zero": false}, "axis": {"orient": "bottom", "offset": -100.5, "values": [0, 6, 12, 18, 23], "format": "d", "title": null, "grid": false, "labelPadding": 8}},
      "y": {"field": "inf", "type": "quantitative", "scale": {"domain": [1.028, 1.577], "range": [255.5, 70.5], "nice": false, "zero": false}, "axis": {"orient": "left", "values": [1.1, 1.2, 1.3, 1.4, 1.5], "format": ".1f", "title": "Tiempo (minutos)", "ticks": false, "grid": true, "labelPadding": 19, "titlePadding": 18}},
      "y2": {"field": "sup"},
      "color": {"field": "serie", "type": "nominal", "legend": null, "scale": {"domain": ["Campo de Marte","Villa María del Triunfo","San Borja","San Juan de Lurigancho","Santa Anita","Ceres","Pariachi","Puente Piedra","Carabayllo","San Martín de Porres","general"], "range": ["#6a00f4","#cc1dbb","#6f2499","#7fc241","#e7c63a","#1f9a3c","#4a5418","#e5872a","#e6222b","#ff8e80","#3c3c9a"]}}}},
    {"mark": {"type": "line", "strokeWidth": 2}, "encoding": {
      "x": {"field": "hora", "type": "quantitative", "axis": {"orient": "top", "offset": -70.5, "values": [0, 6, 12, 18, 23], "labels": false, "title": null, "grid": true}},
      "y": {"field": "valor", "type": "quantitative", "axis": {"orient": "right", "values": [1.1, 1.2, 1.3, 1.4, 1.5], "labels": false, "title": null, "grid": false}},
      "color": {"field": "serie", "type": "nominal", "legend": null}}}
   ]},
  {"width": 155, "height": 1, "data": {"name": "vacio"}, "mark": "point"},
  {"width": 382, "height": 356, "data": {"name": "semanal"}, "transform": [{"filter": "datum.fila == 2"}],
   "layer": [
    {"mark": {"type": "bar", "opacity": 0.45, "width": 33}, "encoding": {
      "x": {"field": "dia", "type": "nominal", "sort": ["lu.","ma.","mi.","ju.","vi.","sá.","do."], "scale": {"type": "point", "padding": 0.44}, "axis": {"orient": "bottom", "offset": -100.5, "title": null, "labelAngle": 0, "grid": false, "labelPadding": 8}},
      "y": {"field": "inf", "type": "quantitative", "scale": {"domain": [1.0795, 1.29], "range": [255.5, 70.5], "nice": false, "zero": false}, "axis": {"orient": "left", "values": [1.10, 1.15, 1.20, 1.25], "format": ".2f", "title": "Tiempo (minutos)", "ticks": false, "grid": true, "labelPadding": 19, "titlePadding": 18}},
      "y2": {"field": "sup"},
      "color": {"field": "serie", "type": "nominal", "legend": null, "scale": {"domain": ["Campo de Marte","Villa María del Triunfo","San Borja","San Juan de Lurigancho","Santa Anita","Ceres","Pariachi","Puente Piedra","Carabayllo","San Martín de Porres","general"], "range": ["#6a00f4","#cc1dbb","#6f2499","#7fc241","#e7c63a","#1f9a3c","#4a5418","#e5872a","#e6222b","#ff8e80","#3c3c9a"]}}}},
    {"mark": {"type": "line", "strokeWidth": 2}, "encoding": {
      "x": {"field": "dia", "type": "nominal", "sort": ["lu.","ma.","mi.","ju.","vi.","sá.","do."], "axis": {"orient": "top", "offset": -70.5, "labels": false, "title": null, "grid": true}},
      "y": {"field": "valor", "type": "quantitative", "axis": {"orient": "right", "values": [1.10, 1.15, 1.20, 1.25], "labels": false, "title": null, "grid": false}},
      "color": {"field": "serie", "type": "nominal", "legend": null}}}
   ]},
  {"width": 60.5, "height": 1, "data": {"name": "vacio"}, "mark": "point"},
  {"width": 1, "height": 356, "view": {"stroke": "#d6d6d6", "strokeWidth": 1}, "data": {"name": "vacio"}, "mark": "point"}
 ], "spacing": 0, "bounds": "flush"},
{"width": 1304, "height": 1, "view": {"stroke": "#d6d6d6", "strokeWidth": 1}, "data": {"name": "vacio"}, "mark": "point"},
{"hconcat": [
  {"width": 1, "height": 357, "view": {"stroke": "#d6d6d6", "strokeWidth": 1}, "data": {"name": "vacio"}, "mark": "point"},
  {"width": 202, "height": 357, "data": {"name": "textos"}, "transform": [{"filter": "datum.fila == 3"}], "mark": {"type": "text", "font": "Liberation Sans", "fontSize": 21, "baseline": "middle", "align": "center", "dx": -4.5}, "encoding": {"y": {"field": "renglon", "type": "quantitative", "scale": {"domain": [-1.117, 10.783], "reverse": true, "nice": false, "zero": false}, "axis": null}, "text": {"field": "texto", "type": "nominal"}, "color": {"field": "grupo", "type": "nominal", "legend": null, "scale": {"domain": ["Campo de Marte","Villa María del Triunfo","San Borja","San Juan de Lurigancho","Santa Anita","Ceres","Pariachi","Puente Piedra","Carabayllo","San Martín de Porres","general"], "range": ["#6a00f4","#cc1dbb","#6f2499","#7fc241","#e7c63a","#1f9a3c","#4a5418","#e5872a","#e6222b","#ff8e80","#3c3c9a"]}}}},
  {"width": 1, "height": 357, "view": {"stroke": "#d6d6d6", "strokeWidth": 1}, "data": {"name": "vacio"}, "mark": "point"},
  {"width": 111.5, "height": 1, "data": {"name": "vacio"}, "mark": "point"},
  {"width": 390, "height": 357, "data": {"name": "horaria"}, "transform": [{"filter": "datum.fila == 3"}],
   "layer": [
    {"mark": {"type": "area", "opacity": 0.45}, "encoding": {
      "x": {"field": "hora", "type": "quantitative", "scale": {"domain": [0, 23], "nice": false, "zero": false}, "axis": {"orient": "bottom", "offset": -101.5, "values": [0, 6, 12, 18, 23], "format": "d", "title": null, "grid": false, "labelPadding": 8}},
      "y": {"field": "inf", "type": "quantitative", "scale": {"domain": [0.663, 2.914], "range": [255.5, 70.5], "nice": false, "zero": false}, "axis": {"orient": "left", "values": [1.0, 1.5, 2.0, 2.5], "format": ".1f", "title": "Tiempo (minutos)", "ticks": false, "grid": true, "labelPadding": 19, "titlePadding": 18}},
      "y2": {"field": "sup"},
      "color": {"field": "serie", "type": "nominal", "legend": null, "scale": {"domain": ["Campo de Marte","Villa María del Triunfo","San Borja","San Juan de Lurigancho","Santa Anita","Ceres","Pariachi","Puente Piedra","Carabayllo","San Martín de Porres","general"], "range": ["#6a00f4","#cc1dbb","#6f2499","#7fc241","#e7c63a","#1f9a3c","#4a5418","#e5872a","#e6222b","#ff8e80","#3c3c9a"]}}}},
    {"mark": {"type": "line", "strokeWidth": 2}, "encoding": {
      "x": {"field": "hora", "type": "quantitative", "axis": {"orient": "top", "offset": -70.5, "values": [0, 6, 12, 18, 23], "labels": false, "title": null, "grid": true}},
      "y": {"field": "valor", "type": "quantitative", "axis": {"orient": "right", "values": [1.0, 1.5, 2.0, 2.5], "labels": false, "title": null, "grid": false}},
      "color": {"field": "serie", "type": "nominal", "legend": null}}}
   ]},
  {"width": 146, "height": 1, "data": {"name": "vacio"}, "mark": "point"},
  {"width": 391, "height": 357, "data": {"name": "semanal"}, "transform": [{"filter": "datum.fila == 3"}],
   "layer": [
    {"mark": {"type": "bar", "opacity": 0.45, "width": 33}, "encoding": {
      "x": {"field": "dia", "type": "nominal", "sort": ["lu.","ma.","mi.","ju.","vi.","sá.","do."], "scale": {"type": "point", "padding": 0.44}, "axis": {"orient": "bottom", "offset": -101.5, "title": null, "labelAngle": 0, "grid": false, "labelPadding": 8}},
      "y": {"field": "inf", "type": "quantitative", "scale": {"domain": [0.872, 2.389], "range": [255.5, 70.5], "nice": false, "zero": false}, "axis": {"orient": "left", "values": [1.0, 1.5, 2.0], "format": ".1f", "title": "Tiempo (minutos)", "ticks": false, "grid": true, "labelPadding": 19, "titlePadding": 18}},
      "y2": {"field": "sup"},
      "color": {"field": "serie", "type": "nominal", "legend": null, "scale": {"domain": ["Campo de Marte","Villa María del Triunfo","San Borja","San Juan de Lurigancho","Santa Anita","Ceres","Pariachi","Puente Piedra","Carabayllo","San Martín de Porres","general"], "range": ["#6a00f4","#cc1dbb","#6f2499","#7fc241","#e7c63a","#1f9a3c","#4a5418","#e5872a","#e6222b","#ff8e80","#3c3c9a"]}}}},
    {"mark": {"type": "line", "strokeWidth": 2}, "encoding": {
      "x": {"field": "dia", "type": "nominal", "sort": ["lu.","ma.","mi.","ju.","vi.","sá.","do."], "axis": {"orient": "top", "offset": -70.5, "labels": false, "title": null, "grid": true}},
      "y": {"field": "valor", "type": "quantitative", "axis": {"orient": "right", "values": [1.0, 1.5, 2.0], "labels": false, "title": null, "grid": false}},
      "color": {"field": "serie", "type": "nominal", "legend": null}}}
   ]},
  {"width": 60.5, "height": 1, "data": {"name": "vacio"}, "mark": "point"},
  {"width": 1, "height": 357, "view": {"stroke": "#d6d6d6", "strokeWidth": 1}, "data": {"name": "vacio"}, "mark": "point"}
 ], "spacing": 0, "bounds": "flush"},
{"width": 1304, "height": 1, "view": {"stroke": "#d6d6d6", "strokeWidth": 1}, "data": {"name": "vacio"}, "mark": "point"},
{"hconcat": [
  {"width": 1, "height": 355, "view": {"stroke": "#d6d6d6", "strokeWidth": 1}, "data": {"name": "vacio"}, "mark": "point"},
  {"width": 202, "height": 355, "data": {"name": "textos"}, "transform": [{"filter": "datum.fila == 4"}], "mark": {"type": "text", "font": "Liberation Sans", "fontSize": 21, "baseline": "middle", "align": "center", "dx": -4.5}, "encoding": {"y": {"field": "renglon", "type": "quantitative", "scale": {"domain": [-1.85, 9.983], "reverse": true, "nice": false, "zero": false}, "axis": null}, "text": {"field": "texto", "type": "nominal"}, "color": {"field": "grupo", "type": "nominal", "legend": null, "scale": {"domain": ["Campo de Marte","Villa María del Triunfo","San Borja","San Juan de Lurigancho","Santa Anita","Ceres","Pariachi","Puente Piedra","Carabayllo","San Martín de Porres","general"], "range": ["#6a00f4","#cc1dbb","#6f2499","#7fc241","#e7c63a","#1f9a3c","#4a5418","#e5872a","#e6222b","#ff8e80","#3c3c9a"]}}}},
  {"width": 1, "height": 355, "view": {"stroke": "#d6d6d6", "strokeWidth": 1}, "data": {"name": "vacio"}, "mark": "point"},
  {"width": 111.5, "height": 1, "data": {"name": "vacio"}, "mark": "point"},
  {"width": 390, "height": 355, "data": {"name": "horaria"}, "transform": [{"filter": "datum.fila == 4"}],
   "layer": [
    {"mark": {"type": "area", "opacity": 0.45}, "encoding": {
      "x": {"field": "hora", "type": "quantitative", "scale": {"domain": [0, 23], "nice": false, "zero": false}, "axis": {"orient": "bottom", "offset": -100, "values": [0, 6, 12, 18, 23], "format": "d", "title": null, "grid": false, "labelPadding": 8}},
      "y": {"field": "inf", "type": "quantitative", "scale": {"domain": [1.457, 4.48], "range": [255, 70.5], "nice": false, "zero": false}, "axis": {"orient": "left", "values": [1.5, 2.0, 2.5, 3.0, 3.5, 4.0], "labelExpr": "datum.value < 1.75 ? '' : format(datum.value, '.1f')", "title": "Tiempo (minutos)", "ticks": false, "grid": true, "labelPadding": 19, "titlePadding": 18}},
      "y2": {"field": "sup"},
      "color": {"field": "serie", "type": "nominal", "legend": null, "scale": {"domain": ["Campo de Marte","Villa María del Triunfo","San Borja","San Juan de Lurigancho","Santa Anita","Ceres","Pariachi","Puente Piedra","Carabayllo","San Martín de Porres","general"], "range": ["#6a00f4","#cc1dbb","#6f2499","#7fc241","#e7c63a","#1f9a3c","#4a5418","#e5872a","#e6222b","#ff8e80","#3c3c9a"]}}}},
    {"mark": {"type": "line", "strokeWidth": 2}, "encoding": {
      "x": {"field": "hora", "type": "quantitative", "axis": {"orient": "top", "offset": -70.5, "values": [0, 6, 12, 18, 23], "labels": false, "title": null, "grid": true}},
      "y": {"field": "valor", "type": "quantitative", "axis": {"orient": "right", "values": [1.5, 2.0, 2.5, 3.0, 3.5, 4.0], "labels": false, "title": null, "grid": false}},
      "color": {"field": "serie", "type": "nominal", "legend": null}}}
   ]},
  {"width": 146, "height": 1, "data": {"name": "vacio"}, "mark": "point"},
  {"width": 391, "height": 355, "data": {"name": "semanal"}, "transform": [{"filter": "datum.fila == 4"}],
   "layer": [
    {"mark": {"type": "bar", "opacity": 0.45, "width": 33}, "encoding": {
      "x": {"field": "dia", "type": "nominal", "sort": ["lu.","ma.","mi.","ju.","vi.","sá.","do."], "scale": {"type": "point", "padding": 0.44}, "axis": {"orient": "bottom", "offset": -100, "title": null, "labelAngle": 0, "grid": false, "labelPadding": 8}},
      "y": {"field": "inf", "type": "quantitative", "scale": {"domain": [1.683, 3.704], "range": [255, 70.5], "nice": false, "zero": false}, "axis": {"orient": "left", "values": [2.0, 2.5, 3.0, 3.5], "format": ".1f", "title": "Tiempo (minutos)", "ticks": false, "grid": true, "labelPadding": 19, "titlePadding": 18}},
      "y2": {"field": "sup"},
      "color": {"field": "serie", "type": "nominal", "legend": null, "scale": {"domain": ["Campo de Marte","Villa María del Triunfo","San Borja","San Juan de Lurigancho","Santa Anita","Ceres","Pariachi","Puente Piedra","Carabayllo","San Martín de Porres","general"], "range": ["#6a00f4","#cc1dbb","#6f2499","#7fc241","#e7c63a","#1f9a3c","#4a5418","#e5872a","#e6222b","#ff8e80","#3c3c9a"]}}}},
    {"mark": {"type": "line", "strokeWidth": 2}, "encoding": {
      "x": {"field": "dia", "type": "nominal", "sort": ["lu.","ma.","mi.","ju.","vi.","sá.","do."], "axis": {"orient": "top", "offset": -70.5, "labels": false, "title": null, "grid": true}},
      "y": {"field": "valor", "type": "quantitative", "axis": {"orient": "right", "values": [2.0, 2.5, 3.0, 3.5], "labels": false, "title": null, "grid": false}},
      "color": {"field": "serie", "type": "nominal", "legend": null}}}
   ]},
  {"width": 60.5, "height": 1, "data": {"name": "vacio"}, "mark": "point"},
  {"width": 1, "height": 355, "view": {"stroke": "#d6d6d6", "strokeWidth": 1}, "data": {"name": "vacio"}, "mark": "point"}
 ], "spacing": 0, "bounds": "flush"}
]
}
